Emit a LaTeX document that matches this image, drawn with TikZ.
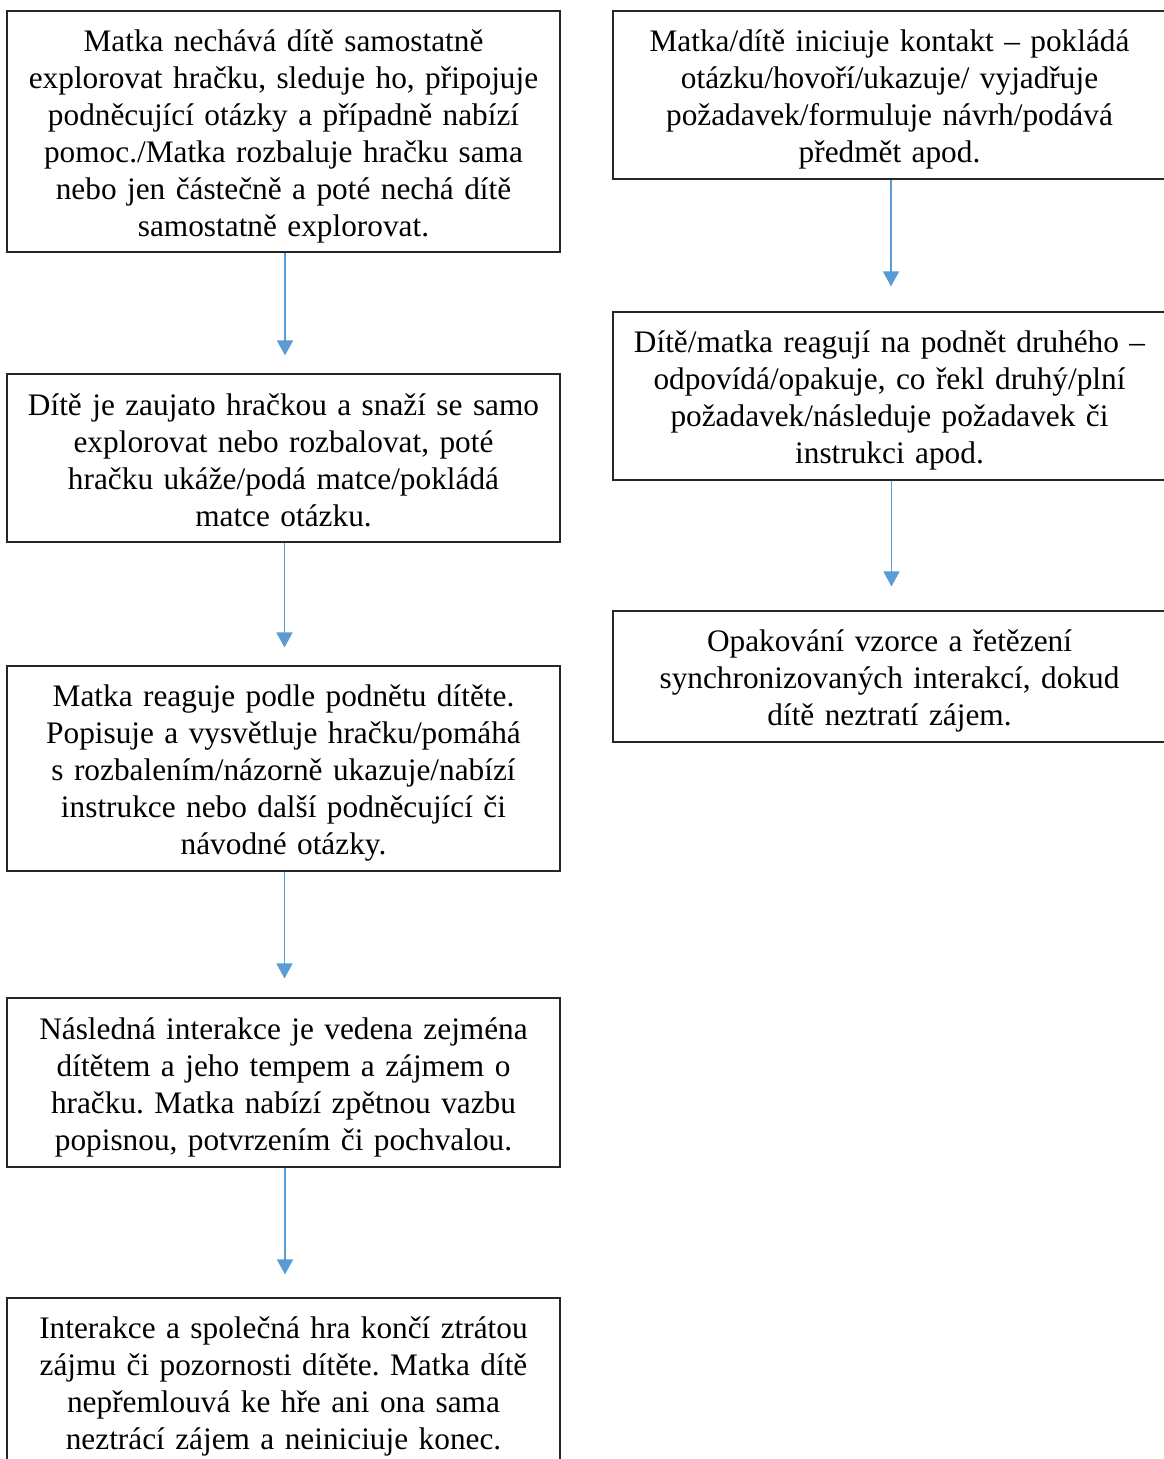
\documentclass[tikz,border=0pt]{standalone}
\usepackage{fontspec}
\setmainfont{Liberation Serif}
\usetikzlibrary{arrows.meta}
\definecolor{arrblue}{HTML}{5B9BD5}
\definecolor{boxline}{HTML}{262626}
\frenchspacing
\newcommand{\topstrut}{\rule{0pt}{31.5pt}}
\newcommand{\botstrut}{\rule[-6pt]{0pt}{6pt}}
\begin{document}
\begin{tikzpicture}[x=1pt,y=-1pt,
  box/.style={draw=boxline, line width=1.2pt, align=center, inner sep=0pt,
    font=\fontsize{31.3}{37}\selectfont\frenchspacing, text width=545pt, minimum width=553pt,
    execute at begin node={\topstrut}, execute at end node={\botstrut}},
  flow/.style={draw=arrblue, line width=1.7pt, -{Triangle[width=16pt,length=15pt]}}]
\fill[white] (0,0) rectangle (1163,1459);
\useasboundingbox (0,0) rectangle (1163,1459);

% left column
\node[box, minimum height=241pt] (l1) at (283.5,131.5) {Matka nechává dítě samostatně\\
explorovat hračku, sleduje ho, připojuje\\
podněcující otázky a případně nabízí\\
pomoc./Matka rozbaluje hračku sama\\
nebo jen částečně a poté nechá dítě\\
samostatně explorovat.};

\node[box, minimum height=168pt] (l2) at (283.5,458) {Dítě je zaujato hračkou a snaží se samo\\
explorovat nebo rozbalovat, poté\\
hračku ukáže/podá matce/pokládá\\
matce otázku.};

\node[box, minimum height=205pt] (l3) at (283.5,768.5) {Matka reaguje podle podnětu dítěte.\\
Popisuje a vysvětluje hračku/pomáhá\\
s rozbalením/názorně ukazuje/nabízí\\
instrukce nebo další podněcující či\\
návodné otázky.};

\node[box, minimum height=169pt] (l4) at (283.5,1082.5) {Následná interakce je vedena zejména\\
dítětem a jeho tempem a zájmem o\\
hračku. Matka nabízí zpětnou vazbu\\
popisnou, potvrzením či pochvalou.};

\node[box, minimum height=168pt] (l5) at (283.5,1382) {Interakce a společná hra končí ztrátou\\
zájmu či pozornosti dítěte. Matka dítě\\
nepřemlouvá ke hře ani ona sama\\
neztrácí zájem a neiniciuje konec.};

% right column
\node[box, minimum height=168pt] (r1) at (889.5,95) {Matka/dítě iniciuje kontakt – pokládá\\
otázku/hovoří/ukazuje/ vyjadřuje\\
požadavek/formuluje návrh/podává\\
předmět apod.};

\node[box, minimum height=168pt] (r2) at (889.5,396) {Dítě/matka reagují na podnět druhého –\\
odpovídá/opakuje, co řekl druhý/plní\\
požadavek/následuje požadavek či\\
instrukci apod.};

\node[box, minimum height=131pt] (r3) at (889.5,676.5) {Opakování vzorce a řetězení\\
synchronizovaných interakcí, dokud\\
dítě neztratí zájem.};

% connectors
\draw[flow, shorten >=18pt] ([xshift=1.5pt]l1.south) -- ([xshift=1.5pt]l2.north);
\draw[flow, shorten >=18pt] ([xshift=1pt]l2.south) -- ([xshift=1pt]l3.north);
\draw[flow, shorten >=19pt] ([xshift=1pt]l3.south) -- ([xshift=1pt]l4.north);
\draw[flow, shorten >=23pt] ([xshift=1.5pt]l4.south) -- ([xshift=1.5pt]l5.north);
\draw[flow, shorten >=25pt] ([xshift=1.5pt]r1.south) -- ([xshift=1.5pt]r2.north);
\draw[flow, shorten >=24pt] ([xshift=2pt]r2.south) -- ([xshift=2pt]r3.north);
\end{tikzpicture}
\end{document}
